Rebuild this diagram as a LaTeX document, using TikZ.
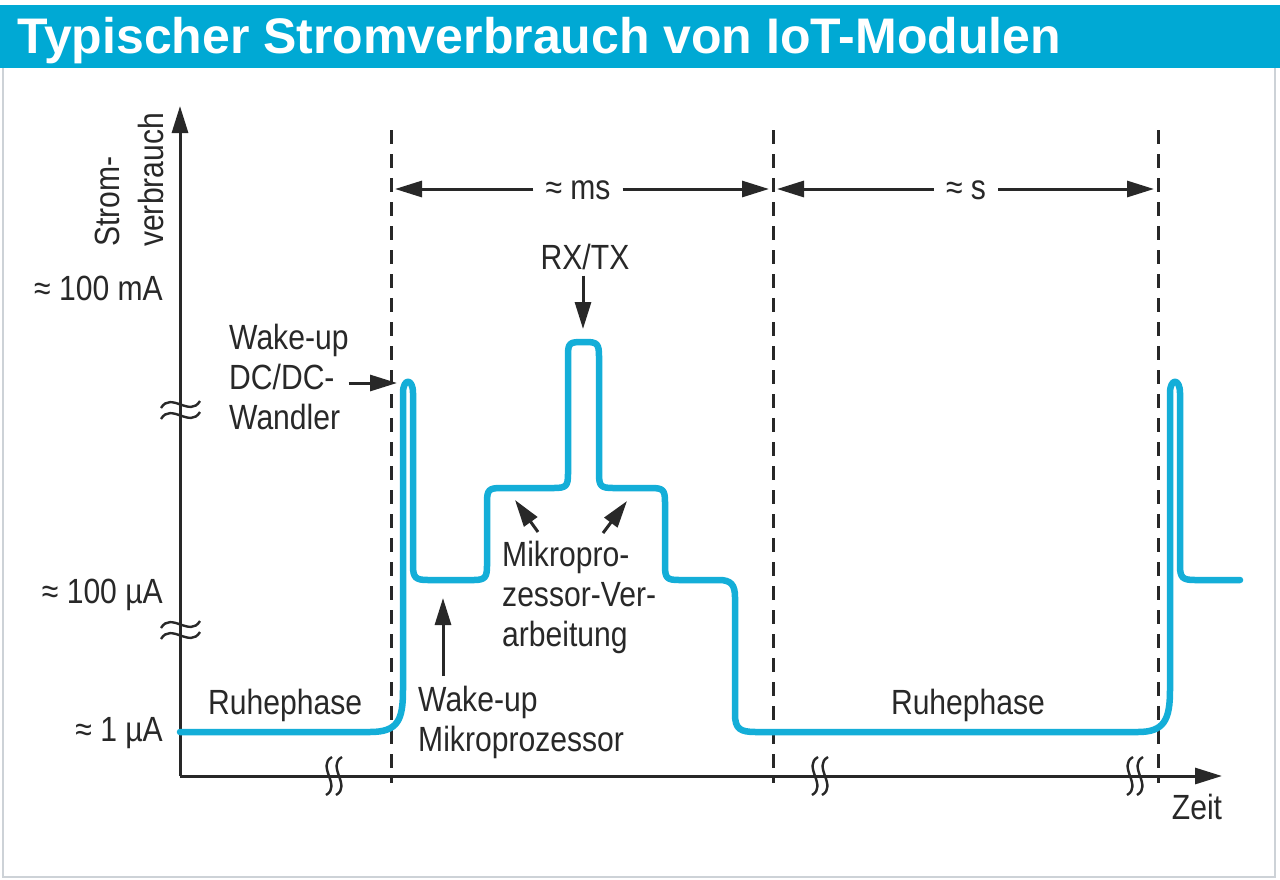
\documentclass[tikz,border=0pt]{standalone}
\usepackage{fontspec}
\setmainfont{Liberation Sans}
\newfontfamily\labfont{Liberation Sans}[FakeStretch=0.86]
\usetikzlibrary{arrows.meta}
\definecolor{iotcyan}{RGB}{0,169,212}
\definecolor{curvecyan}{RGB}{20,174,216}
\definecolor{ink}{RGB}{40,40,40}
\definecolor{framegrey}{RGB}{205,210,215}
\begin{document}
\begin{tikzpicture}[x=1pt,y=-1pt,
  lab/.style={font=\labfont\fontsize{35}{40}\selectfont, text=ink, inner sep=0pt, align=left},
  tiparrow/.style={draw=ink, line width=3pt, -{Triangle[length=27pt,width=16pt]}},
  guide/.style={draw=ink, line width=3pt, dash pattern=on 14pt off 10pt},
  brk/.style={draw=ink, line width=2.4pt},
  curve/.style={draw=curvecyan, line width=6.5pt, line cap=round, line join=round}
]
% background and frame
\fill[white] (0,0) rectangle (1280,879);
\useasboundingbox (0,0) rectangle (1280,879);
\fill[iotcyan] (0,5) rectangle (1280,68);
\draw[framegrey, line width=2pt] (3,68) -- (3,877) -- (1275,877) -- (1275,68);
\node[anchor=base west, text=white, inner sep=0pt, font=\bfseries\fontsize{50}{52}\selectfont] (title) at (17,53) {Typischer Stromverbrauch von IoT-Modulen};

% coordinates
\coordinate (O) at (180,776);
\coordinate (ytip) at (180,106);
\coordinate (xtip) at (1222,776);
\coordinate (v1t) at (391,130); \coordinate (v1b) at (391,783);
\coordinate (v2t) at (773,130); \coordinate (v2b) at (773,783);
\coordinate (v3t) at (1158,130); \coordinate (v3b) at (1158,783);
\coordinate (d1) at (391,189);
\coordinate (d2) at (773,189);
\coordinate (d3) at (1158,189);

% guide lines
\draw[guide] (v1t) -- (v1b);
\draw[guide] (v2t) -- (v2b);
\draw[guide] (v3t) -- (v3b);

% axes
\draw[tiparrow] (O) -- (ytip);
\draw[tiparrow] (O) -- (xtip);

% axis breaks (y axis)
\foreach \yy in {410,630} {
  \draw[brk] (161,\yy-2) .. controls (171,\yy-19) and (190,\yy+8) .. (200,\yy-9);
  \draw[brk] (161,\yy+9) .. controls (171,\yy-8) and (190,\yy+19) .. (200,\yy+2);
}
% axis breaks (x axis)
\foreach \xx in {332,818,1133} {
  \draw[brk] (\xx,757) .. controls (\xx-16,766) and (\xx+10,786) .. (\xx-6,795);
  \draw[brk] (\xx+10,757) .. controls (\xx-6,766) and (\xx+20,786) .. (\xx+4,795);
}

% current curve
\draw[curve] (180,732) -- (370,732) .. controls (398,732) and (403,720) .. (403,690)
  -- (403,393) .. controls (403,378) and (413,378) .. (413,393)
  -- (413,566) .. controls (413,578) and (416,580) .. (428,580)
  -- (474,580) .. controls (485,580) and (487,577) .. (487,566)
  -- (487,502) .. controls (487,490) and (489,488) .. (501,488)
  -- (554,488) .. controls (566,488) and (568,486) .. (568,474)
  -- (568,355) .. controls (568,343) and (570,342) .. (582,342)
  -- (586,342) .. controls (597,342) and (599,344) .. (599,356)
  -- (599,474) .. controls (599,486) and (601,488) .. (613,488)
  -- (651,488) .. controls (663,488) and (665,490) .. (665,502)
  -- (665,566) .. controls (665,578) and (667,580) .. (679,580)
  -- (719,580) .. controls (731,580) and (735,585) .. (735,597)
  -- (735,714) .. controls (735,729) and (740,732) .. (756,732)
  -- (1138,732) .. controls (1164,732) and (1170,720) .. (1170,690)
  -- (1170,393) .. controls (1170,378) and (1180,378) .. (1180,393)
  -- (1180,566) .. controls (1180,578) and (1183,580) .. (1195,580)
  -- (1240,580);

% y-axis labels
\node[lab, anchor=base east] (l1) at (163,300) {≈ 100 mA};
\node[lab, anchor=base east] (l2) at (163,603) {≈ 100 µA};
\node[lab, anchor=base east] (l3) at (163,741) {≈ 1 µA};
\node[lab, rotate=90, anchor=base west, font=\labfont\fontsize{35}{44}\selectfont] (ylab) at (163,247) {Strom-\\verbrauch};
\node[lab, anchor=base] (zeit) at (1197,819) {Zeit};

% dimension labels
\node[lab, anchor=base, inner xsep=12pt] (ms) at (578,199) {≈ ms};
\node[lab, anchor=base, inner xsep=12pt] (sec) at (966,199) {≈ s};
\draw[tiparrow, shorten >=4pt] (ms.west |- d1) -- (d1);
\draw[tiparrow, shorten >=4pt] (ms.east |- d2) -- (d2);
\draw[tiparrow, shorten >=4pt] (sec.west |- d2) -- (d2);
\draw[tiparrow, shorten >=4pt] (sec.east |- d3) -- (d3);

% annotations
\node[lab, anchor=base] (rx) at (585,269) {RX/TX};
\coordinate (rxTip) at (583,329);
\draw[tiparrow, shorten <=6pt] (rx.south -| rxTip) -- (rxTip);

\node[lab, anchor=base west] (dc) at (229,429) {Wake-up\\DC/DC-\\Wandler};
\coordinate (dcTip) at (397,383);
\draw[tiparrow] (dc.east |- dcTip) -- (dcTip);

\node[lab, anchor=base west] (mp) at (502,646) {Mikropro-\\zessor-Ver-\\arbeitung};
\coordinate (mpTipL) at (515,500); \coordinate (mpTailL) at (538,532);
\coordinate (mpTipR) at (627,501); \coordinate (mpTailR) at (603,533);
\draw[tiparrow] (mpTailL) -- (mpTipL);
\draw[tiparrow] (mpTailR) -- (mpTipR);

\node[lab, anchor=base west] (wm) at (418,751) {Wake-up\\Mikroprozessor};
\coordinate (wmTip) at (443,598); \coordinate (wmTail) at (443,676);
\draw[tiparrow] (wmTail) -- (wmTip);

\node[lab, anchor=base west] (r1) at (208,714) {Ruhephase};
\node[lab, anchor=base] (r2) at (968,714) {Ruhephase};
\end{tikzpicture}
\end{document}
